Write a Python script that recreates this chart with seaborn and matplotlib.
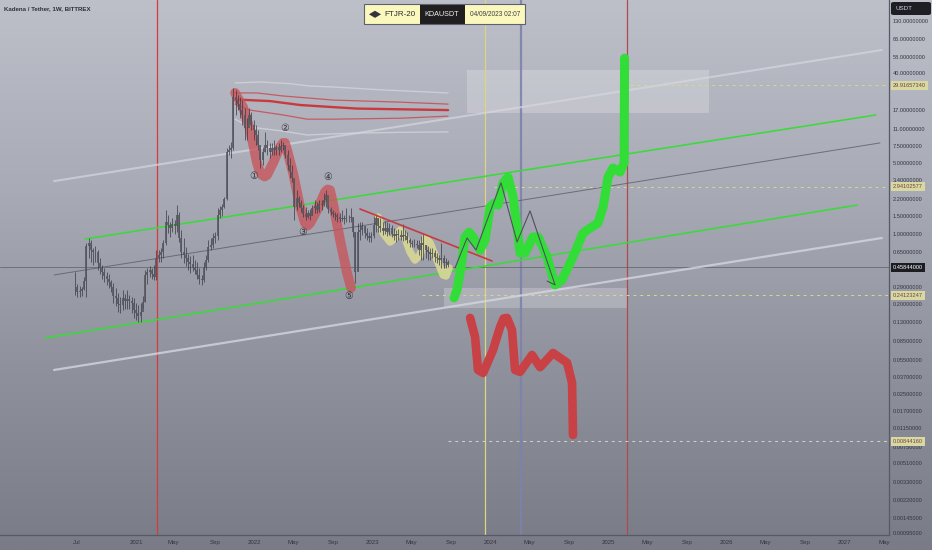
import numpy as np
import pandas as pd
import matplotlib
matplotlib.use("Agg")
import matplotlib.pyplot as plt
from matplotlib.colors import LinearSegmentedColormap
from matplotlib.patches import Rectangle, RegularPolygon, FancyBboxPatch
import seaborn as sns

# ---------- candles (weekly, KDA/USDT) ----------
HIGHS = [.413,.314,.30,.293,.369,.804,.902,.861,.717,.75,.684,.57,.485,.453,.413,.395,.344,.321,.287,.256,.233,.274,.25,.274,.244,.233,.228,.203,.194,.203,.239,.433,.453,.474,.453,.485,.684,.684,.717,.861,1.71,1.53,1.3,1.43,1.36,1.92,1.64,1.08,.902,.733,.624,.596,.61,.544,.52,.453,.386,.52,.61,.861,.902,1.01,1.03,1.8,1.88,1.97,2.31,7.1,7.6,8.2,28.2,27,24,23,21.4,17.8,14.1,17.8,16.3,13.5,12.1,10.8,7.3,7.3,10.3,8.55,8,8,8.55,7.6,8,8.55,8.2,7.45,6.8,5.65,4.8,3.4,2.7,2.36,2.16,1.92,1.84,1.71,1.76,1.92,2.16,2.06,2.16,2.16,2.53,2.7,1.92,1.84,1.71,1.64,1.6,1.6,1.71,1.53,1.8,1.53,1.8,1.43,1.03,1.27,1.3,1.3,1.19,1.13,1.03,1.03,1.49,1.56,1.43,1.43,1.3,1.33,1.3,1.27,1.21,1.13,1.08,1.11,1.08,1.24,1.08,1.03,.902,.861,.881,.861,.861,.944,.99,.768,.75,.717,.717,.684,.639,.61,.804,.61,.57,.544]
LOWS = [.244,.233,.233,.239,.274,.233,.57,.52,.485,.52,.433,.395,.352,.329,.307,.287,.262,.203,.19,.166,.162,.173,.177,.177,.177,.162,.144,.138,.131,.131,.181,.208,.314,.369,.352,.344,.344,.52,.52,.57,.768,1.01,.923,1.03,.99,1.03,.823,.57,.508,.474,.433,.404,.423,.395,.352,.314,.307,.329,.433,.52,.684,.717,.804,.861,1.43,1.49,1.8,2.16,6.06,5.65,6.8,15.2,17,14.1,12.1,8.55,8.55,12.9,10.8,8.55,7.6,6.8,4.5,4.8,6.5,6.06,5.65,6.06,6.06,6.06,6.06,6.5,6.8,5.65,4.3,3.57,3.25,1.36,1.71,1.84,1.64,1.46,1.36,1.43,1.36,1.53,1.6,1.6,1.64,1.71,1.88,1.84,1.6,1.53,1.46,1.36,1.3,1.3,1.33,1.24,1.3,1.3,1.3,.923,.321,.433,.861,.966,.902,.861,.823,.823,.902,1.03,1.03,1.03,.966,.99,.944,.966,.923,.861,.823,.861,.861,.842,.861,.804,.733,.733,.733,.717,.61,.544,.544,.57,.544,.544,.57,.52,.508,.485,.453,.453,.453,.463]
CLOSES = [.293,.262,.268,.28,.336,.75,.804,.684,.654,.654,.508,.453,.413,.377,.352,.329,.293,.239,.228,.199,.194,.228,.213,.223,.213,.203,.173,.162,.151,.166,.208,.386,.413,.433,.395,.369,.57,.61,.654,.804,1.3,1.21,1.13,1.24,1.19,1.53,.902,.654,.61,.57,.52,.496,.453,.433,.386,.352,.344,.453,.544,.733,.768,.902,.944,1.53,1.71,1.84,2.2,6.5,6.8,7.1,23.0,21.4,19.5,17,15.2,11.3,11.3,15.2,12.1,10.8,9.6,7.6,5.4,6.5,7.6,7.1,6.5,7.1,6.8,7.3,6.8,7.45,7.6,6.06,4.8,4.1,3.57,1.84,2.26,2.01,1.8,1.56,1.46,1.6,1.49,1.8,1.88,1.71,1.97,1.92,2.16,2.42,1.76,1.64,1.56,1.53,1.46,1.39,1.43,1.39,1.43,1.43,1.46,1.03,.413,1.03,1.08,1.19,1.01,.944,.902,.944,1.21,1.43,1.19,1.13,1.06,1.13,1.03,1.13,.99,.944,.99,.966,.923,.966,.944,.861,.804,.786,.786,.768,.684,.804,.768,.684,.654,.624,.639,.583,.57,.544,.57,.508,.52,.485]
FIRST_WEEK = 2020.483
WEEK = 7 / 365.25

# ---------- drawn lines: decimal year, price ----------
UPPER_WHITE_X, UPPER_WHITE_Y = [2020.305, 2027.32], [3.33, 67.5]
TOP_GREEN_X, TOP_GREEN_Y = [2020.568, 2027.27], [.881, 15.2]
MID_DARK_X, MID_DARK_Y = [2020.305, 2027.305], [.386, 8.0]
LOW_GREEN_X, LOW_GREEN_Y = [2020.229, 2027.11], [.0908, 1.92]
LOWER_WHITE_X, LOWER_WHITE_Y = [2020.305, 2027.32], [.0436, .902]
TREND_X, TREND_Y = [2022.898, 2024.017], [1.755, .532]

BAND_X1 = [2021.839, 2022.051, 2022.305, 2022.475, 2022.669, 2023.093, 2023.644]
WHITE_TOP = [31.7, 32.4, 31.2, 29.5, 28.9, 27.0, 25.2]
BAND_X2 = [2021.839, 2022.025, 2022.246, 2022.669, 2023.237, 2023.644]
RED_TOP = [25.2, 25.2, 23.5, 21.4, 20.4, 19.5]
BAND_X3 = [2021.839, 2022.136, 2022.39, 2022.669, 2022.873, 2023.644]
RED_MID = [21.7, 20.9, 19.1, 18.2, 17.6, 17.0]
BAND_X4 = [2021.839, 2021.966, 2022.246, 2022.449, 2022.669, 2023.237, 2023.644]
RED_LOW = [19.5, 17.0, 15.2, 13.8, 13.8, 14.1, 14.8]
BAND_X5 = [2021.839, 2021.966, 2022.246, 2022.449, 2022.814, 2023.237, 2023.644]
WHITE_LOW = [13.8, 11.5, 10.5, 9.6, 10.0, 10.2, 10.3]

WAVE_X = [2021.839,2021.907,2021.966,2022.025,2022.047,2022.068,2022.09,2022.11,2022.161,2022.22,2022.246,2022.262,2022.28,2022.331,2022.39,2022.432,2022.453,2022.475,2022.534,2022.602,2022.624,2022.644,2022.669,2022.729,2022.788,2022.822]
WAVE_Y = [25.2,18.2,10.8,5.05,4.2,3.83,3.7,3.83,5.05,7.3,8.0,8.0,6.8,4.0,1.84,1.27,1.2,1.27,1.71,2.6,2.75,2.7,2.01,.861,.404,.287]
WEDGE_X = [2023.051,2023.093,2023.153,2023.195,2023.237,2023.28,2023.322,2023.364,2023.407,2023.449,2023.492,2023.551,2023.602,2023.627,2023.653]
WEDGE_Y = [1.46,1.01,.823,.902,1.08,.902,.654,.544,.61,.902,.804,.544,.386,.377,.453]
BULL_X = [2023.695,2023.72,2023.754,2023.788,2023.822,2023.856,2023.915,2023.958,2024.0,2024.034,2024.068,2024.11,2024.153,2024.195,2024.229,2024.254,2024.297,2024.364,2024.407,2024.483,2024.551,2024.61,2024.703,2024.788,2024.847,2024.915,2024.958,2025.0,2025.042,2025.102,2025.136,2025.138,2025.14]
BULL_Y = [.228,.274,.463,.923,1.03,.923,.684,.861,1.84,2.0,1.92,3.2,3.65,2.31,1.16,.639,.639,.923,.923,.583,.307,.344,.583,1.01,1.13,1.27,1.84,3.65,4.5,4.1,5.05,12.6,56.0]
BEAR_X = [2023.831,2023.873,2023.898,2023.941,2024.025,2024.085,2024.115,2024.144,2024.186,2024.212,2024.254,2024.356,2024.424,2024.534,2024.653,2024.695,2024.703]
BEAR_Y = [.144,.093,.0436,.0407,.0689,.117,.142,.144,.109,.0436,.0417,.0615,.0465,.0644,.0514,.0324,.0098]
ZIG_X = [2023.703,2023.805,2023.881,2024.093,2024.229,2024.339,2024.551,2024.483]
ZIG_Y = [.453,.902,.684,3.2,.823,1.68,.307,.336]

RED_VLINE, YELLOW_VLINE, BLUE_VLINE, BROWN_VLINE = 2021.174, 2023.953, 2024.26, 2025.164
LAST_PRICE = 0.45844
LEVELS = [29.91657340, 2.94102577, 0.24123247, 0.00844160]
LEVEL_TEXT = ["29.91657340", "2.94102577", "0.24123247", "0.00844160"]
LEVEL_START = [2025.19, 2024.03, 2023.42, 2023.644]
ZONE1 = (2023.805, 2025.856, 15.9, 42.7)
ZONE2 = (2023.61, 2025.161, .181, .2865)

WAVE_MARK_X = [2022.0, 2022.263, 2022.415, 2022.627, 2022.805]
WAVE_MARK_Y = [3.74, 11.3, 1.03, 3.66, .238]
WAVE_MARK_TEXT = ["①", "②", "③", "④", "⑤"]

Y_TICKS = [130, 86, 58, 40, 28, 17, 11, 7.5, 5, 3.4, 2.2, 1.5, 1.0, .65, .29, .2, .13, .085, .055, .037, .025, .017, .0115, .0075, .0051, .0033, .0022, .00145, .00104]
Y_LABELS = ["130.00000000", "86.00000000", "58.00000000", "40.00000000", "28.00000000", "17.00000000", "11.00000000", "7.50000000", "5.00000000", "3.40000000", "2.20000000", "1.50000000", "1.00000000", "0.65000000", "0.29000000", "0.20000000", "0.13000000", "0.08500000", "0.05500000", "0.03700000", "0.02500000", "0.01700000", "0.01150000", "0.00750000", "0.00510000", "0.00330000", "0.00220000", "0.00145000", "0.00095000"]
X_TICKS = [2020.5, 2021, 2021.32, 2021.67, 2022, 2022.33, 2022.67, 2023, 2023.33, 2023.67, 2024, 2024.33, 2024.67, 2025, 2025.33, 2025.67, 2026, 2026.33, 2026.67, 2027, 2027.34]
X_LABELS = ["Jul", "2021", "May", "Sep", "2022", "May", "Sep", "2023", "May", "Sep", "2024", "May", "Sep", "2025", "May", "Sep", "2026", "May", "Sep", "2027", "May"]

W, H = 932, 550
PANEL_R, PANEL_B = 889, 535

sns.set_theme(style="white")
plt.rcParams["font.family"] = ["Liberation Sans", "DejaVu Sans"]
fig = plt.figure(figsize=(W / 100, H / 100), dpi=100)

# background gradient
bg = fig.add_axes([0, 0, 1, 1], zorder=-1)
cmap = LinearSegmentedColormap.from_list("bg", ["#bdbfc9", "#a9abb6", "#8f919d", "#797b87"])
bg.imshow(np.linspace(0, 1, 256)[:, None], aspect="auto", cmap=cmap)
bg.axis("off")

ax = fig.add_axes([0, (H - PANEL_B) / H, PANEL_R / W, PANEL_B / H])
ax.set_facecolor("none")
ax.set_yscale("log")


def path(x, y, color, lw, alpha=1.0, z=3, ls="-"):
    sns.lineplot(x=x, y=y, ax=ax, sort=False, estimator=None, color=color, lw=lw,
                 alpha=alpha, zorder=z, solid_capstyle="round", solid_joinstyle="round",
                 linestyle=ls)


# zones
for x0, x1, y0, y1 in (ZONE1, ZONE2):
    ax.add_patch(Rectangle((x0, y0), x1 - x0, y1 - y0, facecolor="white", alpha=0.22, lw=0, zorder=1))

# vertical lines and levels
ax.axvline(RED_VLINE, color="#d63a3f", lw=0.9, zorder=2)
ax.axvline(YELLOW_VLINE, color="#dcd77a", lw=0.9, zorder=2)
ax.axvline(BLUE_VLINE, color="#7f82aa", lw=1.6, alpha=.9, zorder=2)
ax.axvline(BROWN_VLINE, color="#b04a4e", lw=0.9, zorder=2)
ax.axhline(LAST_PRICE, color="#55565f", lw=0.6, alpha=.75, zorder=2)
for lvl, start, col in zip(LEVELS, LEVEL_START, ["#d9d88a", "#d9d88a", "#d9d88a", "#d4d5cc"]):
    ax.hlines(lvl, start, 2027.381, color=col, lw=0.7, linestyles=(0, (3, 4)), zorder=2)

# channels
path(UPPER_WHITE_X, UPPER_WHITE_Y, "#d5d6de", 1.5, .72)
path(LOWER_WHITE_X, LOWER_WHITE_Y, "#d5d6de", 1.6, .8)
path(TOP_GREEN_X, TOP_GREEN_Y, "#35dd35", 1.1)
path(LOW_GREEN_X, LOW_GREEN_Y, "#35dd35", 1.1)
path(MID_DARK_X, MID_DARK_Y, "#5c5d68", 0.7, .8)

# band
path(BAND_X1, WHITE_TOP, "#d5d6de", 1.0, .75)
path(BAND_X5, WHITE_LOW, "#d5d6de", 1.0, .75)
path(BAND_X2, RED_TOP, "#c8474b", 0.9, .8)
path(BAND_X3, RED_MID, "#c93a3e", 1.7)
path(BAND_X4, RED_LOW, "#c8474b", 0.9, .8)

# hand-drawn paths under the candles
path(WAVE_X, WAVE_Y, "#c9545a", 7.0, .78, z=3)
path(WEDGE_X, WEDGE_Y, "#dcdb94", 5.4, .85, z=3)

# candles
candles = pd.DataFrame({"high": HIGHS, "low": LOWS, "close": CLOSES})
candles["x"] = FIRST_WEEK + WEEK * np.arange(len(candles))
candles["open"] = candles["close"].shift(1).fillna(candles["close"])
ax.vlines(candles["x"], candles["low"], candles["high"], color="#33343b", lw=0.6, alpha=.8, zorder=4)
ax.vlines(candles["x"], candles[["open", "close"]].min(axis=1), candles[["open", "close"]].max(axis=1),
          color="#55565f", lw=1.4, alpha=.85, zorder=4)

# forecast paths
path(TREND_X, TREND_Y, "#c93a3e", 1.2, z=5)
path(BEAR_X, BEAR_Y, "#c84145", 6.2, z=5)
path(BULL_X, BULL_Y, "#33dd38", 6.5, z=5)
path(ZIG_X, ZIG_Y, "#4f505c", 0.8, z=6)

for x, y, t in zip(WAVE_MARK_X, WAVE_MARK_Y, WAVE_MARK_TEXT):
    ax.text(x, y, t, fontsize=7, color="#34353c", ha="center", va="center", zorder=7, family="DejaVu Sans")

# axes
ax.set_xlim(2019.847, 2027.381)
ax.set_ylim(10 ** ((233.5 - PANEL_B) / 100.3), 10 ** (233.5 / 100.3))
ax.yaxis.tick_right()
ax.set_yticks(Y_TICKS)
ax.set_yticklabels(Y_LABELS)
ax.minorticks_off()
ax.set_xticks(X_TICKS)
ax.set_xticklabels(X_LABELS)
ax.tick_params(axis="y", length=0, pad=2.8, labelsize=4.1, labelcolor="#34353e")
ax.tick_params(axis="x", length=0, pad=3.5, labelsize=4.4, labelcolor="#34353e")
for s in ("top", "left"):
    ax.spines[s].set_visible(False)
for s in ("right", "bottom"):
    ax.spines[s].set_color("#565966")
    ax.spines[s].set_linewidth(0.9)
ax.grid(False)

# price labels
ytr = ax.get_yaxis_transform()
for lvl, txt in zip(LEVELS, LEVEL_TEXT):
    ax.text(1.0045, lvl, txt, transform=ytr, fontsize=4.1, color="#74403f", va="center", ha="left", zorder=9,
            clip_on=False, bbox=dict(facecolor="#d8d8a2", edgecolor="none", pad=1.3))
ax.text(1.0045, LAST_PRICE, "0.45844000", transform=ytr, fontsize=4.1, color="white", va="center", ha="left",
        zorder=9, clip_on=False, bbox=dict(facecolor="#1c1d22", edgecolor="none", pad=1.6))


# overlay chrome in pixel coordinates
def fx(px):
    return px / W


def fy(py):
    return 1 - py / H


fig.text(fx(3.5), fy(8.5), "Kadena / Tether, 1W, BITTREX", fontsize=4.4, fontweight="bold", color="#2f3038", va="center")

fig.add_artist(FancyBboxPatch((fx(891), fy(15)), fx(40), 13 / H, boxstyle="round,pad=0,rounding_size=0.003",
                              transform=fig.transFigure, facecolor="#1e1f24", edgecolor="none"))
fig.text(fx(895), fy(8.7), "USDT", fontsize=4.5, color="#d5d6de", va="center")

for x0, x1, col in ((364, 420, "#fbf8bd"), (420, 465, "#211e20"), (465, 525, "#fbf8bd")):
    fig.add_artist(Rectangle((fx(x0), fy(24)), fx(x1 - x0), 20 / H, transform=fig.transFigure,
                             facecolor=col, edgecolor="none"))
fig.add_artist(Rectangle((fx(364), fy(24)), fx(161), 20 / H, transform=fig.transFigure,
                         facecolor="none", edgecolor="#5e6070", lw=0.8))
fig.add_artist(RegularPolygon((fx(375), fy(14.3)), 4, radius=0.0065, transform=fig.transFigure,
                              facecolor="#34353c", edgecolor="none"))
fig.text(fx(384), fy(14.5), "FTJR-20", fontsize=5.8, color="#2a2b30", va="center")
fig.text(fx(424), fy(14.5), "KDAUSDT", fontsize=5.2, color="#f0f0f0", va="center")
fig.text(fx(469.5), fy(14.5), "04/09/2023 02:07", fontsize=4.7, color="#3c3d44", va="center")

fig.savefig("out.png", dpi=100)
